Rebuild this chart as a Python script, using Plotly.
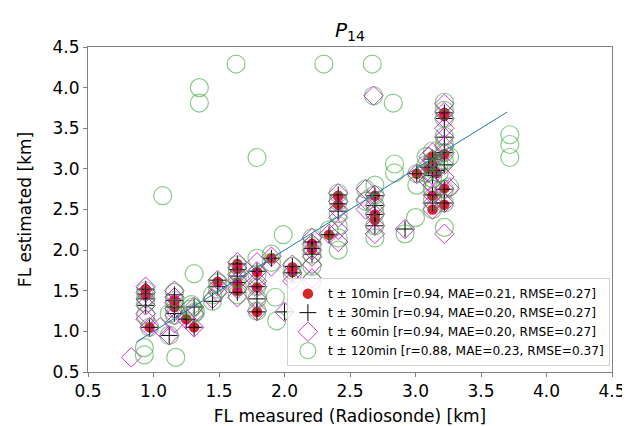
import plotly.graph_objects as go

# t +- 10 min
x10 = [0.94, 0.94, 0.97, 1.16, 1.16, 1.25, 1.31, 1.49, 1.64, 1.64, 1.64, 1.64,
       1.79, 1.79, 1.79, 1.90, 2.06, 2.06, 2.21, 2.21, 2.34, 2.41, 2.41,
       2.69, 2.69, 2.69, 3.01, 3.10, 3.13, 3.13, 3.13, 3.13, 3.16,
       3.22, 3.22, 3.22, 3.22, 3.22]
y10 = [1.52, 1.45, 1.05, 1.38, 1.30, 1.15, 1.05, 1.61, 1.83, 1.77, 1.60, 1.50,
       1.73, 1.54, 1.24, 1.90, 1.79, 1.73, 2.08, 2.01, 2.19, 2.67, 2.56,
       2.67, 2.44, 2.37, 2.94, 3.00, 3.15, 3.05, 2.67, 2.50, 2.95,
       3.69, 3.65, 3.18, 2.76, 2.56]

# t +- 30 min
x30 = [0.94, 0.94, 0.94, 0.94, 0.97, 1.12, 1.16, 1.16, 1.16, 1.16, 1.25, 1.31,
       1.31, 1.45, 1.49, 1.49, 1.64, 1.64, 1.64, 1.64, 1.64, 1.79, 1.79, 1.79,
       1.79, 1.90, 2.00, 2.06, 2.06, 2.21, 2.21, 2.21, 2.34, 2.41, 2.41, 2.41,
       2.69, 2.69, 2.69, 2.69, 2.92, 3.01, 3.10, 3.13, 3.13, 3.13, 3.13, 3.16,
       3.22, 3.22, 3.22, 3.22, 3.22, 3.22, 3.22]
y30 = [1.52, 1.46, 1.40, 1.32, 1.05, 0.95, 1.45, 1.38, 1.30, 1.22, 1.15, 1.30,
       1.05, 1.37, 1.63, 1.55, 1.83, 1.76, 1.68, 1.60, 1.48, 1.74, 1.55, 1.40,
       1.24, 1.90, 1.24, 1.80, 1.72, 2.10, 2.02, 1.95, 2.19, 2.68, 2.57, 2.48,
       2.67, 2.55, 2.44, 2.30, 2.26, 2.94, 3.02, 3.12, 2.92, 2.68, 2.58, 2.98,
       3.69, 3.62, 3.39, 3.20, 3.05, 2.75, 2.58]

# t +- 60 min
x60 = [0.83, 0.94, 0.94, 0.94, 0.94, 0.94, 0.94, 0.97, 1.05, 1.12,
       1.16, 1.16, 1.16, 1.16, 1.16, 1.16, 1.25, 1.31, 1.31, 1.31, 1.45,
       1.49, 1.49, 1.49, 1.64, 1.64, 1.64, 1.64, 1.64, 1.64,
       1.79, 1.79, 1.79, 1.79, 1.79, 1.79, 1.90, 1.90, 2.00,
       2.06, 2.06, 2.06, 2.21, 2.21, 2.21, 2.21, 2.21, 2.21, 2.34,
       2.41, 2.41, 2.41, 2.41, 2.41, 2.41, 2.62, 2.62, 2.62,
       2.69, 2.69, 2.69, 2.69, 2.69, 2.68, 2.92, 3.01,
       3.10, 3.10, 3.10, 3.10, 3.13, 3.13, 3.13, 3.13, 3.13, 3.13, 3.13, 3.16,
       3.22, 3.22, 3.22, 3.22, 3.22, 3.22, 3.22, 3.22, 3.22, 3.22, 3.22, 3.22,
       3.26]
y60 = [0.68, 1.55, 1.48, 1.40, 1.32, 1.22, 1.15, 1.05, 1.05, 0.95,
       1.50, 1.42, 1.35, 1.28, 1.20, 1.10, 1.15, 1.30, 1.22, 1.05, 1.40,
       1.63, 1.55, 1.48, 1.85, 1.78, 1.70, 1.62, 1.52, 1.42,
       1.85, 1.74, 1.62, 1.55, 1.40, 1.25, 1.92, 1.80, 1.24,
       1.82, 1.72, 1.62, 2.15, 2.08, 2.00, 1.92, 1.82, 1.65, 2.20,
       2.70, 2.60, 2.50, 2.40, 2.25, 2.10, 2.75, 2.62, 2.50,
       2.68, 2.55, 2.44, 2.30, 2.20, 3.90, 2.26, 2.94,
       3.15, 3.05, 2.95, 2.85, 3.20, 3.12, 2.92, 2.80, 2.68, 2.58, 2.50, 3.00,
       3.80, 3.70, 3.62, 3.50, 3.39, 3.28, 3.20, 3.05, 2.90, 2.75, 2.58, 2.20,
       2.76]

# t +- 120 min
x120 = [0.93, 0.93, 1.17, 0.97, 1.12, 1.07, 1.35, 1.35, 1.63, 1.79, 1.99,
        2.30, 2.67, 2.68, 2.83, 2.84, 2.84, 3.72, 3.72, 3.72, 1.31,
        0.94, 0.94, 0.94, 0.94, 1.12, 1.16, 1.16, 1.16, 1.16,
        1.28, 1.30, 1.32, 1.29, 1.31, 1.45, 1.45, 1.49, 1.49,
        1.64, 1.64, 1.64, 1.64, 1.64, 1.79, 1.79, 1.79, 1.79, 1.79,
        1.90, 1.90, 1.93, 1.94, 2.06, 2.06, 2.21, 2.21, 2.21, 2.21, 2.21, 2.34,
        2.41, 2.41, 2.41, 2.41, 2.41, 2.41, 2.62, 2.62,
        2.69, 2.69, 2.69, 2.69, 2.69, 2.69, 2.92, 3.00, 3.01, 3.01,
        3.08, 3.08, 3.08, 3.13, 3.13, 3.13, 3.13, 3.13, 3.13, 3.13, 3.18, 3.18,
        3.22, 3.22, 3.22, 3.22, 3.22, 3.22, 3.22, 3.22, 3.22, 3.22, 3.26, 3.26]
y120 = [0.80, 0.71, 0.68, 1.05, 0.95, 2.67, 4.00, 3.81, 4.29, 3.14, 2.19,
        4.29, 4.29, 3.90, 3.81, 3.06, 2.95, 3.42, 3.30, 3.14, 1.71,
        1.50, 1.42, 1.35, 1.20, 1.22, 1.48, 1.38, 1.28, 1.20,
        1.27, 1.30, 1.24, 1.33, 1.22, 1.37, 1.45, 1.60, 1.52,
        1.82, 1.75, 1.65, 1.55, 1.45, 1.90, 1.70, 1.55, 1.40, 1.25,
        1.95, 1.85, 1.42, 1.13, 1.80, 1.70, 2.15, 2.05, 1.95, 1.80, 1.62, 2.25,
        2.70, 2.60, 2.45, 2.30, 2.15, 2.00, 2.75, 2.60,
        2.80, 2.68, 2.55, 2.45, 2.30, 2.15, 2.20, 2.40, 2.94, 2.80,
        3.15, 3.05, 2.95, 3.22, 3.10, 3.00, 2.88, 2.75, 2.62, 2.50, 3.05, 2.95,
        3.82, 3.72, 3.62, 3.40, 3.30, 3.20, 3.10, 2.75, 2.58, 2.28, 3.15, 2.78]

fit_x = [0.87, 3.70]
fit_y = [0.87, 3.70]

labels = ["t \u00b1 10min [r=0.94, MAE=0.21, RMSE=0.27]",
          "t \u00b1 30min [r=0.94, MAE=0.20, RMSE=0.27]",
          "t \u00b1 60min [r=0.94, MAE=0.20, RMSE=0.27]",
          "t \u00b1 120min [r=0.88, MAE=0.23, RMSE=0.37]"]

fig = go.Figure()
fig.add_trace(go.Scatter(x=x10, y=y10, mode="markers", name=labels[0],
                         marker=dict(color="#d62728", size=10.5, symbol="circle",
                                     line=dict(width=0))))
fig.add_trace(go.Scatter(x=x30, y=y30, mode="markers", name=labels[1],
                         marker=dict(color="black", size=12, symbol="cross-thin-open",
                                     line=dict(width=1, color="black"))))
fig.add_trace(go.Scatter(x=x60, y=y60, mode="markers", name=labels[2],
                         marker=dict(color="rgba(204,0,204,0.8)", size=15,
                                     symbol="diamond-open",
                                     line=dict(width=1, color="rgba(204,0,204,0.8)"))))
fig.add_trace(go.Scatter(x=x120, y=y120, mode="markers", name=labels[3],
                         marker=dict(color="rgba(40,160,40,0.55)", size=18,
                                     symbol="circle-open",
                                     line=dict(width=1.2, color="rgba(40,160,40,0.55)"))))
fig.add_trace(go.Scatter(x=fit_x, y=fit_y, mode="lines", showlegend=False,
                         line=dict(color="#1f77b4", width=1)))

axis_style = dict(range=[0.5, 4.5], dtick=0.5, tickformat=".1f", showgrid=False,
                  zeroline=False, showline=True, linecolor="#808080", linewidth=1,
                  mirror=True, ticks="outside", ticklen=4, tickcolor="#808080",
                  tickfont=dict(size=17, color="black"))

fig.update_xaxes(**axis_style, title=dict(text="FL measured (Radiosonde) [km]",
                                          font=dict(size=17, color="black"), standoff=9))
fig.update_yaxes(**axis_style, title=dict(text="FL estimated [km]",
                                          font=dict(size=17, color="black"), standoff=16))

fig.update_layout(
    width=630, height=426,
    margin=dict(l=80, r=17, t=39, b=51),
    paper_bgcolor="white", plot_bgcolor="white",
    font=dict(family="DejaVu Sans", color="black"),
    title=dict(text="<i>P</i><sub>14</sub>", x=0.5, xref="paper", xanchor="center",
               y=0.965, yanchor="top", font=dict(size=20, color="black")),
    legend=dict(x=0.996, y=0.018, xanchor="right", yanchor="bottom",
                bgcolor="rgba(255,255,255,0.8)", bordercolor="#d0d0d0", borderwidth=1,
                font=dict(size=12.2, color="black"), tracegroupgap=0),
)

fig.write_html("out.html")
